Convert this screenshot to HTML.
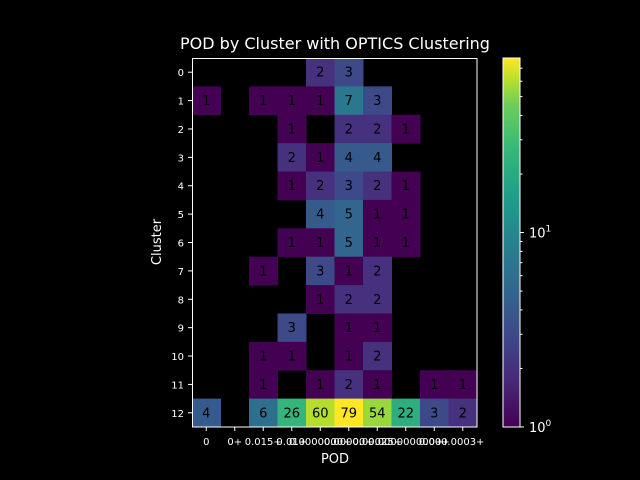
<!DOCTYPE html>
<html><head><meta charset="utf-8"><style>
html,body{margin:0;padding:0;background:#000;overflow:hidden;width:640px;height:480px;}
svg{display:block;}
svg text{font-family:"DejaVu Sans","Liberation Sans",sans-serif;}
</style></head><body>
<svg id="c" width="640" height="480" xmlns="http://www.w3.org/2000/svg">
<defs><linearGradient id="vg" x1="0" y1="1" x2="0" y2="0">
<stop offset="0" stop-color="#440154"/><stop offset="0.125" stop-color="#482878"/><stop offset="0.25" stop-color="#3e4989"/><stop offset="0.375" stop-color="#31688e"/><stop offset="0.5" stop-color="#26828e"/><stop offset="0.625" stop-color="#1f9e89"/><stop offset="0.75" stop-color="#35b779"/><stop offset="0.875" stop-color="#6ece58"/><stop offset="0.9375" stop-color="#b5de2b"/><stop offset="1" stop-color="#fde725"/>
</linearGradient></defs>
<text x="335" y="49" fill="#fff" font-size="16" text-anchor="middle">POD by Cluster with OPTICS Clustering</text>
<text x="335" y="463" fill="#fff" font-size="13" text-anchor="middle">POD</text>
<text transform="translate(161,242) rotate(-90)" fill="#fff" font-size="13" text-anchor="middle">Cluster</text>
<g id="cells"></g>
<rect x="192.5" y="58.5" width="284.5" height="368.5" fill="none" stroke="#fff" stroke-width="1"/>
<g id="axes"></g>
<rect x="503" y="58" width="17" height="369" fill="url(#vg)" stroke="#fff" stroke-width="1"/>
<g id="cbticks"></g>
</svg>
<script>
const rows=["0","1","2","3","4","5","6","7","8","9","10","11","12"];
const xLabels=["0","0+","0.015+","0.01+","0.0000000+","0.00000+","0.00025+","0.000000000+","0.00+","0.0003+"];
const counts=[
[0,0,0,0,2,3,0,0,0,0],
[1,0,1,1,1,7,3,0,0,0],
[0,0,0,1,0,2,2,1,0,0],
[0,0,0,2,1,4,4,0,0,0],
[0,0,0,1,2,3,2,1,0,0],
[0,0,0,0,4,5,1,1,0,0],
[0,0,0,1,1,5,1,1,0,0],
[0,0,1,0,3,1,2,0,0,0],
[0,0,0,0,1,2,2,0,0,0],
[0,0,0,3,0,1,1,0,0,0],
[0,0,1,1,0,1,2,0,0,0],
[0,0,1,0,1,2,1,0,1,1],
[4,0,6,26,60,79,54,22,3,2]];
const vmax=79;
const X0=192,X1=477,Y0=58,Y1=427;
const cw=(X1-X0)/xLabels.length, rh=(Y1-Y0)/rows.length;
const xs=i=>X0+i*cw, ys=j=>Y0+j*rh;
const stops=[[0,"#440154"],[0.125,"#482878"],[0.25,"#3e4989"],[0.375,"#31688e"],[0.5,"#26828e"],[0.625,"#1f9e89"],[0.75,"#35b779"],[0.875,"#6ece58"],[0.9375,"#b5de2b"],[1,"#fde725"]];
function hx(h){return [1,3,5].map(k=>parseInt(h.substr(k,2),16));}
function vir(t){t=Math.max(0,Math.min(1,t));for(let k=1;k<stops.length;k++){if(t<=stops[k][0]){const a=stops[k-1],b=stops[k];const f=(t-a[0])/(b[0]-a[0]);const A=hx(a[1]),B=hx(b[1]);return "rgb("+A.map((v,i)=>Math.round(v+(B[i]-v)*f)).join(",")+")";}}return stops[stops.length-1][1];}
const NS="http://www.w3.org/2000/svg";
const cells=document.getElementById('cells'),axes=document.getElementById('axes'),cb=document.getElementById('cbticks');
function mk(tag,at,par,txt){const e=document.createElementNS(NS,tag);for(const k in at)e.setAttribute(k,at[k]);if(txt!==undefined)e.textContent=txt;par.appendChild(e);return e;}
counts.forEach((row,j)=>row.forEach((v,i)=>{
 if(v<=0)return;
 const t=Math.log10(v)/Math.log10(vmax);
 const r=mk('rect',{x:xs(i),y:ys(j),width:cw+0.5,height:rh+0.5,fill:vir(t)},cells);
 
 
 const tx=mk('text',{x:xs(i)+cw/2,y:ys(j)+rh/2+4.5,'font-size':13,'text-anchor':'middle',fill:'#000'},cells,String(v));
 
 
}));
rows.forEach((r,j)=>{
 const y=ys(j)+rh/2;
 mk('line',{x1:X0-4,x2:X0,y1:y,y2:y,stroke:'#fff'},axes);
 const t=mk('text',{x:X0-8,y:y+4,'font-size':10,'text-anchor':'end',fill:'#fff'},axes,r);
 
 
});
xLabels.forEach((l,i)=>{
 const x=xs(i)+cw/2;
 mk('line',{x1:x,x2:x,y1:Y1,y2:Y1+4,stroke:'#fff'},axes);
 const t=mk('text',{x:x,y:Y1+18,'font-size':10,'text-anchor':'middle',fill:'#fff'},axes,l);
 
 
});
const cy=v=>427-369*Math.log10(v)/Math.log10(vmax);
for(let v=2;v<=70;v+=(v<10?1:10)){const y=cy(v);mk('line',{x1:520,x2:522.5,y1:y,y2:y,stroke:'#fff'},cb);}
[[1,"0"],[10,"1"]].forEach(([v,e])=>{const y=cy(v);mk('line',{x1:520,x2:524,y1:y,y2:y,stroke:'#fff'},cb);
 const t=mk('text',{x:529,y:y+5,'font-size':13,fill:'#fff'},cb);
 
 
 mk('tspan',{},t,'10');mk('tspan',{dy:-6,'font-size':9},t,e);});
</script>
</body></html>
